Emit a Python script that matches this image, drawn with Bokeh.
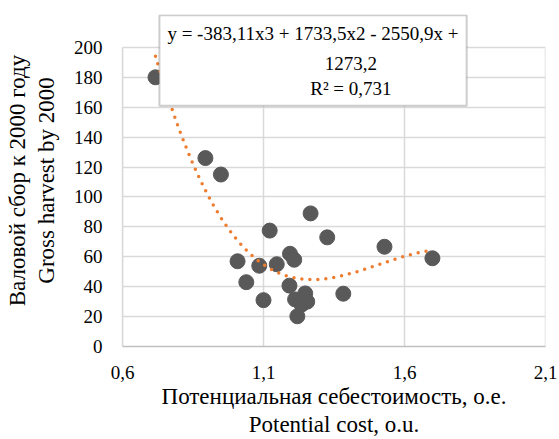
import numpy as np
from bokeh.plotting import figure
from bokeh.models import Range1d, FixedTicker, Label, BoxAnnotation
from bokeh.embed import file_html
from bokeh.resources import INLINE

# ---- data ----
cost = [0.717, 0.894, 0.949, 1.008, 1.039, 1.085, 1.100, 1.122, 1.147, 1.194,
        1.209, 1.192, 1.212, 1.248, 1.255, 1.235, 1.220, 1.267, 1.326, 1.383,
        1.529, 1.699]
harvest = [180, 126, 115, 57, 43, 54, 31, 77.5, 55, 62,
           58, 40.7, 31.5, 35.5, 30, 28, 20.2, 89, 73, 35.3,
           66.7, 59]
trend_coef = [-383.11, 1733.5, -2550.9, 1273.2]
x_ticks = [0.6, 1.1, 1.6, 2.1]
x_tick_labels = ["0,6", "1,1", "1,6", "2,1"]
y_ticks = [0, 20, 40, 60, 80, 100, 120, 140, 160, 180, 200]
eq_line1 = "y = -383,11x3 + 1733,5x2 - 2550,9x +"
eq_line2 = "1273,2"
eq_line3 = "R² = 0,731"
x_title = ["Потенциальная себестоимость, о.е.", "Potential cost, o.u."]
y_title = ["Валовой сбор к 2000 году", "Gross harvest by 2000"]

FONT = "Liberation Serif"
FS = "19px"
TFS = "23px"
GRID = "#D9D9D9"

# frame spans 14..347 px vertically -> y up to 222 so the label box fits above 200
p = figure(width=559, height=439, output_backend="svg", toolbar_location=None,
           x_range=Range1d(0.6, 2.1), y_range=Range1d(0, 222),
           min_border_left=122, min_border_right=14, min_border_top=14,
           min_border_bottom=92)
p.outline_line_color = None
p.background_fill_color = "white"

for ax in (p.xaxis[0], p.yaxis[0]):
    ax.major_tick_line_color = None
    ax.minor_tick_line_color = None
    ax.major_label_text_font = FONT
    ax.major_label_text_font_size = FS
    ax.major_label_text_color = "black"
    ax.axis_label_text_font = FONT
    ax.axis_label_text_font_size = TFS
    ax.axis_label_text_font_style = "normal"
    ax.axis_label_text_color = "black"
p.xaxis[0].axis_label_text_line_height = 1.12
p.yaxis[0].axis_label_text_line_height = 1.17
p.xaxis[0].ticker = FixedTicker(ticks=x_ticks)
p.xaxis[0].major_label_overrides = {t: l for t, l in zip(x_ticks, x_tick_labels)}
p.yaxis[0].ticker = FixedTicker(ticks=y_ticks)
p.yaxis[0].bounds = (0, 200)
p.xaxis[0].major_label_standoff = 13
p.yaxis[0].major_label_standoff = 14
p.xaxis[0].axis_line_color = "#BFBFBF"
p.xaxis[0].axis_line_width = 1.5
p.yaxis[0].axis_line_color = GRID
p.yaxis[0].axis_line_width = 1.5
p.xaxis[0].axis_label = "\n".join(x_title)
p.yaxis[0].axis_label = "\n".join(y_title)
p.xaxis[0].axis_label_standoff = 2
p.yaxis[0].axis_label_standoff = 12

p.xgrid.visible = False
p.ygrid.grid_line_color = GRID
p.ygrid.grid_line_width = 1.5
p.ygrid.ticker = FixedTicker(ticks=y_ticks)

# vertical grid lines at the x ticks, only over the 0..200 value span
p.segment(x0=x_ticks, y0=[y_ticks[0]] * len(x_ticks), x1=x_ticks,
          y1=[y_ticks[-1]] * len(x_ticks), line_color=GRID, line_width=1.5)

p.scatter(cost, harvest, size=15, fill_color="#595959", line_color="#595959")

xs = np.linspace(min(cost), max(cost), 300)
ys = np.polyval(trend_coef, xs)
p.line(xs, ys, line_color="#ED7D31", line_width=3.5, line_dash="0 8",
       line_cap="round")

box = BoxAnnotation(left=0.7309, right=1.8204, bottom=160.9, top=221.5,
                    fill_color="white", fill_alpha=1.0,
                    line_color="#595959", line_width=2)
p.add_layout(box)

def lab(x, y, t, align="center"):
    p.add_layout(Label(x=x, y=y, text=t, text_font=FONT, text_font_size=FS,
                       text_align=align, text_baseline="middle",
                       text_color="black"))

lab(0.7592, 209.3, eq_line1, align="left")
lab(1.41, 189.3, eq_line2)
lab(1.41, 172.7, eq_line3)

open("out.html", "w").write(file_html(p, INLINE))
